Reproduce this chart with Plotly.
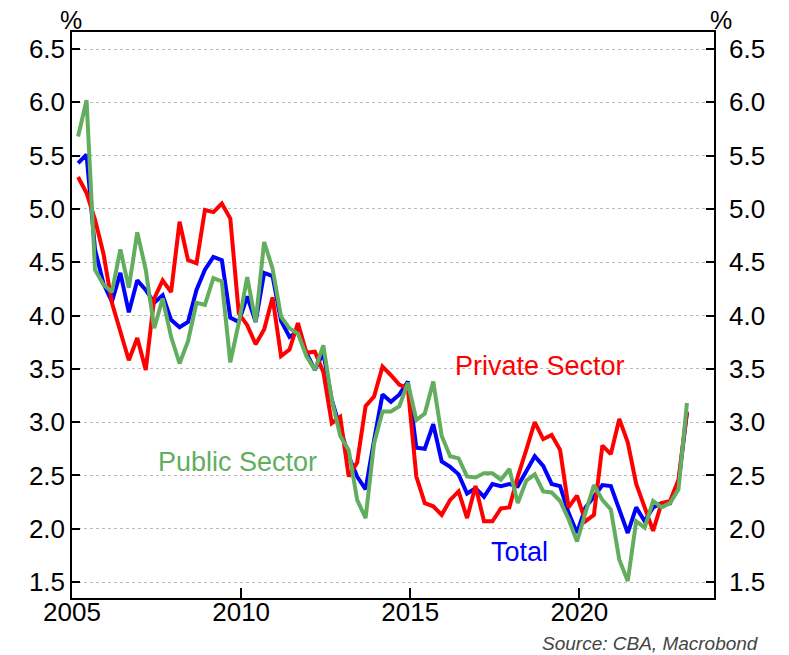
import pandas as pd
import plotly.graph_objects as go

# Quarterly observations, 2005 Q1 to 2023 Q1 (annual % change)
quarters = pd.period_range("2005Q1", "2023Q1", freq="Q")

total = [
    5.43, 5.51, 4.62, 4.30, 4.13, 4.40, 4.03, 4.33, 4.24, 4.12, 4.19, 3.96,
    3.89, 3.94, 4.24, 4.43, 4.55, 4.52, 3.98, 3.94, 4.18, 3.94, 4.40, 4.37,
    3.95, 3.80, 3.85, 3.65, 3.49, 3.65, 3.21, 2.93, 2.68, 2.49, 2.37, 2.83,
    3.26, 3.19, 3.26, 3.38, 2.76, 2.75, 2.98, 2.63, 2.58, 2.51, 2.33, 2.38,
    2.30, 2.42, 2.40, 2.42, 2.40, 2.54, 2.68, 2.59, 2.42, 2.40, 2.15, 1.96,
    2.20, 2.30, 2.41, 2.40, 2.18, 1.96, 2.20, 2.07, 2.20, 2.24, 2.24, 2.43,
    3.09,
]

private_sector = [
    5.30, 5.15, 4.90, 4.58, 4.12, 3.85, 3.58, 3.79, 3.49, 4.16, 4.33, 4.22,
    4.88, 4.52, 4.49, 4.99, 4.97, 5.05, 4.91, 4.02, 3.91, 3.73, 3.87, 4.17,
    3.62, 3.68, 3.93, 3.65, 3.66, 3.47, 2.99, 3.05, 2.49, 2.62, 3.15, 3.24,
    3.52, 3.44, 3.35, 3.32, 2.49, 2.24, 2.21, 2.13, 2.27, 2.35, 2.10, 2.40,
    2.07, 2.07, 2.19, 2.20, 2.49, 2.74, 3.00, 2.84, 2.88, 2.74, 2.20, 2.31,
    2.07, 2.13, 2.78, 2.70, 3.03, 2.81, 2.42, 2.20, 1.98, 2.24, 2.26, 2.46,
    3.10,
]

public_sector = [
    5.68, 6.02, 4.43, 4.29, 4.22, 4.62, 4.26, 4.78, 4.43, 3.88, 4.16, 3.80,
    3.55, 3.76, 4.12, 4.10, 4.35, 4.32, 3.56, 3.93, 4.36, 3.94, 4.69, 4.44,
    3.99, 3.88, 3.83, 3.62, 3.49, 3.72, 3.21, 2.87, 2.74, 2.27, 2.10, 2.80,
    3.10, 3.10, 3.15, 3.37, 3.02, 3.08, 3.38, 2.87, 2.68, 2.66, 2.49, 2.48,
    2.52, 2.52, 2.46, 2.56, 2.24, 2.45, 2.51, 2.35, 2.34, 2.26, 2.09, 1.88,
    2.15, 2.41, 2.27, 2.18, 1.71, 1.51, 2.07, 2.01, 2.26, 2.20, 2.24, 2.37,
    3.18,
]

year_ticks = [2005, 2010, 2015, 2020]
pct_ticks = [1.5, 2.0, 2.5, 3.0, 3.5, 4.0, 4.5, 5.0, 5.5, 6.0, 6.5]

# place each quarter around its middle month, as a decimal year
x = [p.year + (p.quarter - 1) * 0.25 + 0.18 for p in quarters]

RED = "#FF0000"
BLUE = "#0000FF"
GREEN = "#62AE5E"
FONT = "Liberation Sans, Arial, sans-serif"

fig = go.Figure()
fig.add_trace(go.Scatter(x=x, y=total, mode="lines", name="Total",
                         line=dict(color=BLUE, width=4)))
fig.add_trace(go.Scatter(x=x, y=private_sector, mode="lines", name="Private Sector",
                         line=dict(color=RED, width=4)))
# public sector sits on the mirrored right-hand scale (identical range)
fig.add_trace(go.Scatter(x=x, y=public_sector, mode="lines", name="Public Sector",
                         yaxis="y2", line=dict(color=GREEN, width=4)))

yrange = [1.35, 6.66]
axis_font = dict(family=FONT, size=26, color="black")

fig.update_layout(
    width=789, height=655,
    margin=dict(l=72, r=75, t=32, b=57),
    paper_bgcolor="white", plot_bgcolor="white",
    showlegend=False,
    font=dict(family=FONT, color="black"),
    xaxis=dict(
        range=[2005, 2023.98], tickvals=year_ticks,
        ticktext=[str(v) for v in year_ticks],
        ticks="inside", ticklen=10, tickwidth=1.5, tickcolor="black",
        showgrid=False, zeroline=False,
        showline=True, linecolor="black", linewidth=1.5, mirror=True,
        ticklabelstandoff=-10,
        tickfont=axis_font,
    ),
    yaxis=dict(
        range=yrange, tickvals=pct_ticks, tickformat=".1f",
        ticks="inside", ticklen=8, tickwidth=1.5, tickcolor="black",
        showgrid=True, gridcolor="#BBBBBB", griddash="dot", gridwidth=1,
        zeroline=False,
        showline=True, linecolor="black", linewidth=1.5, mirror=True,
        tickfont=axis_font,
    ),
    yaxis2=dict(
        range=yrange, tickvals=pct_ticks, tickformat=".1f",
        overlaying="y", side="right", anchor="x",
        ticks="inside", ticklen=8, tickwidth=1.5, tickcolor="black",
        showgrid=False, zeroline=False, showline=False,
        ticklabelstandoff=14,
        tickfont=axis_font,
    ),
)

# series labels
fig.add_annotation(x=2018.83, y=3.53, text="Private Sector", showarrow=False,
                   font=dict(family=FONT, size=27, color=RED))
fig.add_annotation(x=2009.90, y=2.63, text="Public Sector", showarrow=False,
                   font=dict(family=FONT, size=27, color=GREEN))
fig.add_annotation(x=2018.24, y=1.78, text="Total", showarrow=False,
                   font=dict(family=FONT, size=27, color=BLUE))

# unit markers above both axes
fig.add_annotation(xref="paper", yref="paper", x=0, y=1, xanchor="right",
                   yanchor="bottom", xshift=12, yshift=-4, text="%",
                   showarrow=False, font=dict(family=FONT, size=25, color="black"))
fig.add_annotation(xref="paper", yref="paper", x=1, y=1, xanchor="left",
                   yanchor="bottom", xshift=-6, yshift=-4, text="%",
                   showarrow=False, font=dict(family=FONT, size=25, color="black"))

fig.add_annotation(xref="paper", yref="paper", x=1, y=0, xanchor="right",
                   yanchor="middle", xshift=47, yshift=-45,
                   text="<i>Source: CBA, Macrobond</i>",
                   showarrow=False, font=dict(family=FONT, size=19, color="#444444"))

fig.write_html("out.html")
